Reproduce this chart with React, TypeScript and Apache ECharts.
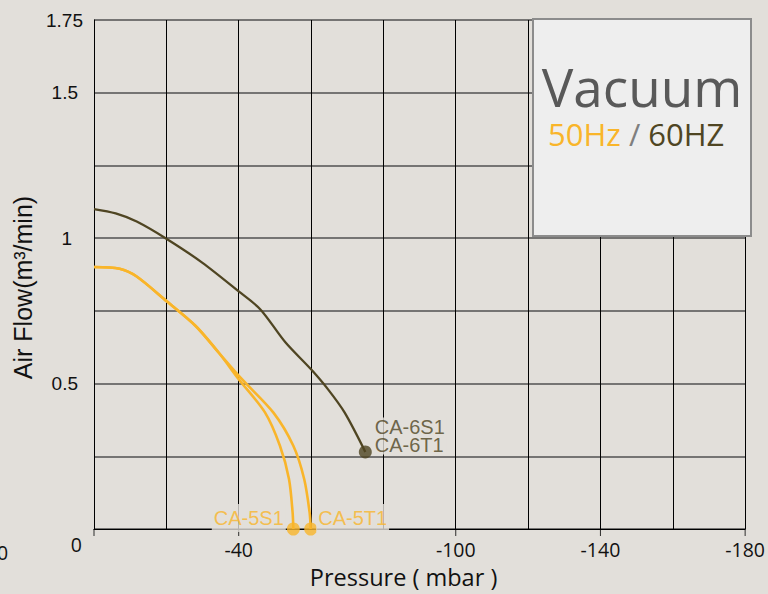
import React, { useEffect, useRef } from "react";
import * as echarts from "echarts";

const BG = "#E2DFDA";
const YELLOW = "#F9B52A";
const OLIVE = "#4F4522";

const xTickLabels = [-40, -100, -140, -180];
const yTickLabels = [0, 0.5, 1, 1.5, 1.75];

const curve60Hz: [number, number][] = [
  [0, 1.1], [-6, 1.085], [-11.8, 1.057], [-20, 0.998], [-29.9, 0.916],
  [-40, 0.817], [-46, 0.755], [-52.9, 0.642], [-60, 0.549], [-64.7, 0.48],
  [-69.3, 0.4], [-75, 0.265],
];
const curve5S1: [number, number][] = [
  [0, 0.901], [-7.1, 0.895], [-11.7, 0.869], [-20.1, 0.783], [-28.1, 0.698],
  [-34.5, 0.606], [-40, 0.515], [-47.3, 0.4], [-51.4, 0.286], [-53.9, 0.172],
  [-54.9, 0.057], [-55.1, 0],
];
const curve5T1: [number, number][] = [
  [0, 0.901], [-7.1, 0.895], [-11.7, 0.869], [-20.1, 0.783], [-28.1, 0.698],
  [-34.5, 0.606], [-40.9, 0.515], [-49.6, 0.4], [-55.1, 0.286], [-58.1, 0.172],
  [-59.6, 0.057], [-59.9, 0],
];
const tickMarks: [number, number][] = [[0, 0], [-40, 0], [-100, 0], [-140, 0], [-180, 0]];

export default function App() {
  const ref = useRef<HTMLDivElement>(null);
  useEffect(() => {
    document.body.style.margin = "0";
    const chart = echarts.init(ref.current!, null, { renderer: "svg" });
    const labelBase = {
      show: true,
      fontFamily: "Liberation Sans, Arial, sans-serif",
      fontSize: 20,
      backgroundColor: BG,
      padding: [5, 2, 3, 2],
    };
    const yPad: Record<string, number> = { "1.75": 0, "1.5": 5, "1": 11, "0.5": 5 };
    const tickFont = { fontFamily: "Liberation Sans, Arial", fontSize: 19, color: "#111" };
    chart.setOption({
      animation: false,
      backgroundColor: BG,
      grid: { left: 94, right: 17, top: 20, bottom: 64 },
      xAxis: {
        type: "value",
        min: -180,
        max: 0,
        interval: 20,
        inverse: true,
        axisLine: { show: true, lineStyle: { color: "#000", width: 1 } },
        axisTick: { show: false },
        splitLine: { show: true, lineStyle: { color: "#000", width: 1 } },
        axisLabel: {
          margin: 10,
          fontFamily: "Open Sans, sans-serif",
          fontSize: 19.5,
          color: "#111",
          showMinLabel: true,
          showMaxLabel: true,
          formatter: (v: number) => (xTickLabels.includes(v) ? String(v) : ""),
        },
        name: "Pressure ( mbar )",
        nameLocation: "middle",
        nameGap: 36,
        nameTextStyle: {
          fontFamily: "Open Sans, sans-serif",
          fontSize: 23.5,
          color: "#111",
          padding: [0, 32, 0, 0],
        },
      },
      yAxis: {
        type: "value",
        min: 0,
        max: 1.75,
        interval: 0.25,
        axisLine: { show: true, lineStyle: { color: "#000", width: 1 } },
        axisTick: { show: false },
        splitLine: { show: true, lineStyle: { color: "#505050", width: 1.6 } },
        axisLabel: {
          margin: 11,
          showMinLabel: true,
          showMaxLabel: true,
          formatter: (v: number) => {
            const hit = yTickLabels.find((t) => Math.abs(t - v) < 1e-6);
            if (hit === undefined) return "";
            if (hit === 0) return "{z|0}";
            const key = String(hit);
            return `{p${yPad[key]}|${key}}`;
          },
          rich: {
            p0: { ...tickFont, padding: [0, 0, 0, 0] },
            p5: { ...tickFont, padding: [0, 5, 0, 0] },
            p11: { ...tickFont, padding: [0, 11, 0, 0] },
            z: { fontFamily: "Open Sans, sans-serif", fontSize: 19.5, color: "#111", padding: [30, 1, 0, 0] },
          },
        },
        name: "Air Flow(m³/min)",
        nameLocation: "middle",
        nameRotate: 90,
        nameGap: 55,
        nameTextStyle: {
          fontFamily: "Liberation Sans, Arial, sans-serif",
          fontSize: 25,
          color: "#111",
          padding: [0, 26, 0, 0],
        },
      },
      graphic: [
        {
          type: "rect",
          shape: { x: 533, y: 19, width: 218, height: 217 },
          style: { fill: "#EEEEEE", stroke: "#8C8C8C", lineWidth: 2 },
          z: 100,
        },
        {
          type: "text",
          x: 642,
          y: 86,
          z: 101,
          style: {
            text: "Vacuum",
            fontFamily: "Open Sans, sans-serif",
            fontSize: 53,
            fill: "#595959",
            align: "center",
            verticalAlign: "middle",
          },
        },
        {
          type: "text",
          x: 548,
          y: 134,
          z: 101,
          style: {
            text: "{a|50Hz} {b|/} {c|60HZ}",
            fontFamily: "Open Sans, sans-serif",
            fontSize: 31,
            align: "left",
            verticalAlign: "middle",
            rich: {
              a: { fill: YELLOW, fontFamily: "Open Sans, sans-serif", fontSize: 31 },
              b: { fill: "#7F7F7F", fontFamily: "Open Sans, sans-serif", fontSize: 31 },
              c: { fill: OLIVE, fontFamily: "Open Sans, sans-serif", fontSize: 31 },
            },
          },
        },
        {
          type: "text",
          x: -3,
          y: 552,
          style: {
            text: "0",
            fontFamily: "Open Sans, sans-serif",
            fontSize: 19.5,
            fill: "#111",
            align: "left",
            verticalAlign: "middle",
          },
        },
      ],
      series: [
        {
          name: "CA-6 60Hz",
          type: "line",
          data: curve60Hz,
          smooth: 0.3,
          symbol: "none",
          lineStyle: { color: OLIVE, width: 2.3 },
          z: 3,
        },
        {
          name: "CA-5S1",
          type: "line",
          data: curve5S1,
          smooth: 0.3,
          symbol: "none",
          lineStyle: { color: YELLOW, width: 2.6 },
          z: 3,
        },
        {
          name: "CA-5T1",
          type: "line",
          data: curve5T1,
          smooth: 0.3,
          symbol: "none",
          lineStyle: { color: YELLOW, width: 2.6 },
          z: 3,
        },
        {
          name: "ends",
          type: "scatter",
          clip: false,
          z: 4,
          symbol: "circle",
          symbolSize: 13,
          data: [
            {
              value: curve60Hz[curve60Hz.length - 1],
              itemStyle: { color: OLIVE },
              label: {
                ...labelBase,
                formatter: "CA-6S1\nCA-6T1",
                color: OLIVE,
                position: "right",
                distance: 1,
                offset: [0, -16],
                lineHeight: 18,
                padding: [1, 2, 0, 2],
              },
            },
            {
              value: curve5S1[curve5S1.length - 1],
              itemStyle: { color: YELLOW },
              label: {
                ...labelBase,
                formatter: "CA-5S1",
                color: YELLOW,
                position: "left",
                distance: 1,
                offset: [0, -11],
              },
            },
            {
              value: curve5T1[curve5T1.length - 1],
              itemStyle: { color: YELLOW },
              label: {
                ...labelBase,
                formatter: "CA-5T1",
                color: YELLOW,
                position: "right",
                distance: -1,
                offset: [0, -11],
              },
            },
          ],
        },
        {
          name: "ticks",
          type: "scatter",
          clip: false,
          silent: true,
          symbol: "rect",
          symbolSize: [1, 7],
          symbolOffset: [0, "50%"],
          itemStyle: { color: "#000" },
          data: tickMarks,
          z: 1,
        },
      ],
    });
    return () => chart.dispose();
  }, []);
  return (
    <div
      ref={ref}
      style={{ position: "fixed", left: 0, top: 0, width: 768, height: 594 }}
    />
  );
}
